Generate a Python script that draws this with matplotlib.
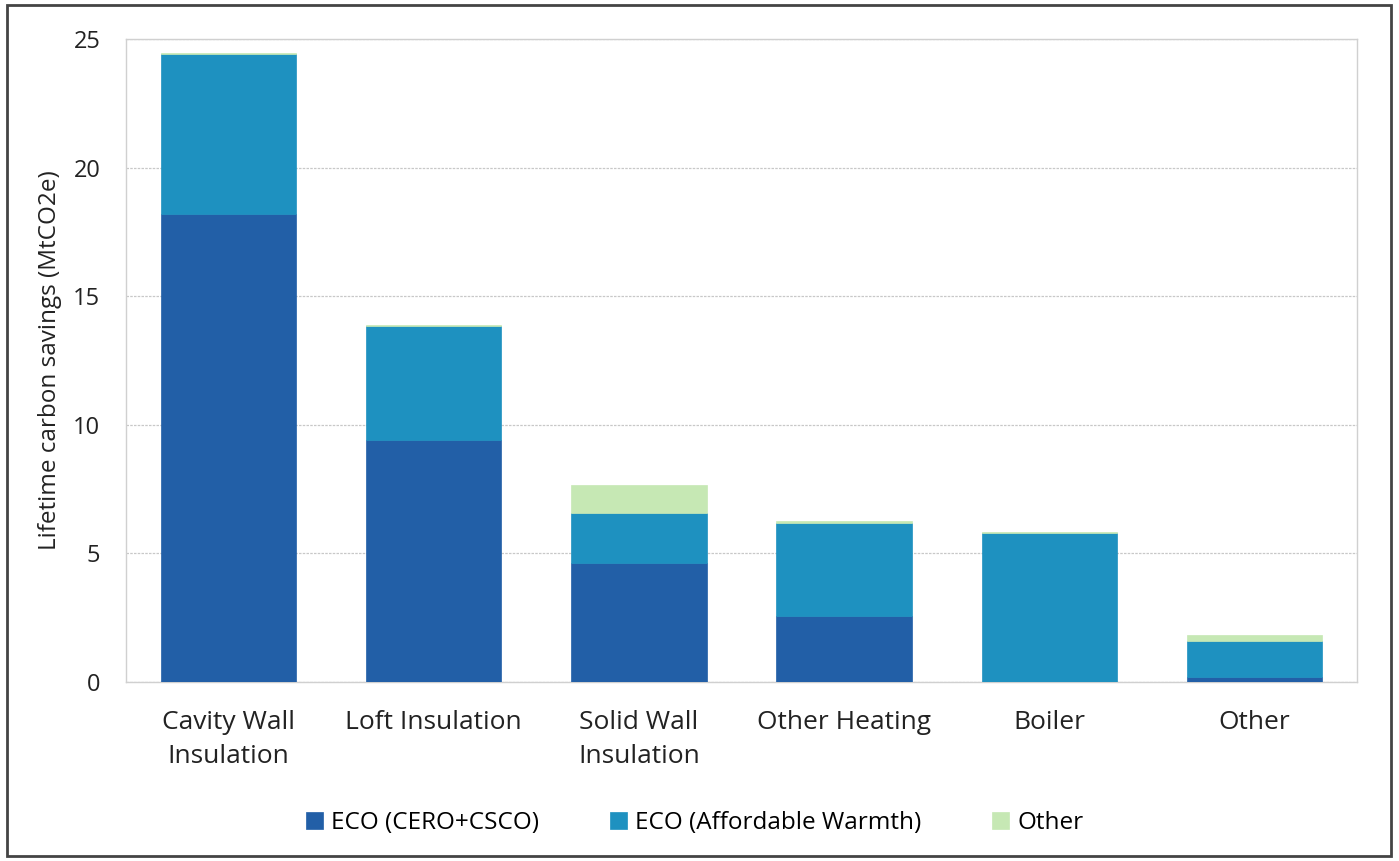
import matplotlib
matplotlib.use("Agg")
import matplotlib.pyplot as plt
import numpy as np
from matplotlib.patches import Rectangle

# ── Data (MtCO2e) ──
categories = ["Cavity Wall\nInsulation", "Loft Insulation", "Solid Wall\nInsulation",
              "Other Heating", "Boiler", "Other"]
eco_cero_csco = [18.2, 9.4, 4.63, 2.58, 0.0, 0.18]
eco_affordable = [6.22, 4.44, 1.94, 3.61, 5.78, 1.41]
other = [0.05, 0.05, 1.09, 0.07, 0.05, 0.25]

series = [
    ("ECO (CERO+CSCO)", eco_cero_csco, "#225FA7"),
    ("ECO (Affordable Warmth)", eco_affordable, "#1E91C0"),
    ("Other", other, "#C6E8B4"),
]

plt.rcParams['font.family'] = ['Open Sans', 'DejaVu Sans']

fig = plt.figure(figsize=(13.99, 8.61), dpi=100)
ax = fig.add_axes([0.0901, 0.2079, 0.8799, 0.7468])

x = np.arange(len(categories))
bottom = np.zeros(len(categories))
for label, vals, color in series:
    ax.bar(x, vals, bottom=bottom, width=0.66, color=color, label=label,
           edgecolor=color, linewidth=0.5, zorder=3)
    bottom += np.array(vals)

ax.set_xlim(-0.5, len(categories) - 0.5)
ax.set_ylim(0, 25)
ax.set_yticks([0, 5, 10, 15, 20, 25])
ax.set_xticks(x)
ax.set_xticklabels(categories, fontsize=19, color="#222222", linespacing=1.5)
ax.tick_params(axis='y', labelsize=17, colors="#222222", length=0, pad=18.5)
ax.tick_params(axis='x', length=0, pad=20)
ax.set_ylabel("Lifetime carbon savings (MtCO2e)", fontsize=17.5, color="#222222", labelpad=8)

ax.yaxis.grid(True, color="#c8c8c8", linestyle=(0, (2, 1)), linewidth=0.9, zorder=0)
for s in ax.spines.values():
    s.set_color("#d0d0d0")
    s.set_linewidth(1.0)

fig.legend(*ax.get_legend_handles_labels(), loc="center", bbox_to_anchor=(0.4964, 0.044),
           ncol=3, frameon=False, fontsize=17.5, handlelength=0.7, handleheight=0.7,
           handletextpad=0.35, columnspacing=2.9)

# outer frame
fig.patches.append(Rectangle((0.005, 0.006), 0.989, 0.988, transform=fig.transFigure,
                             fill=False, edgecolor="#444444", linewidth=2))

fig.savefig("out.png", dpi=100)
